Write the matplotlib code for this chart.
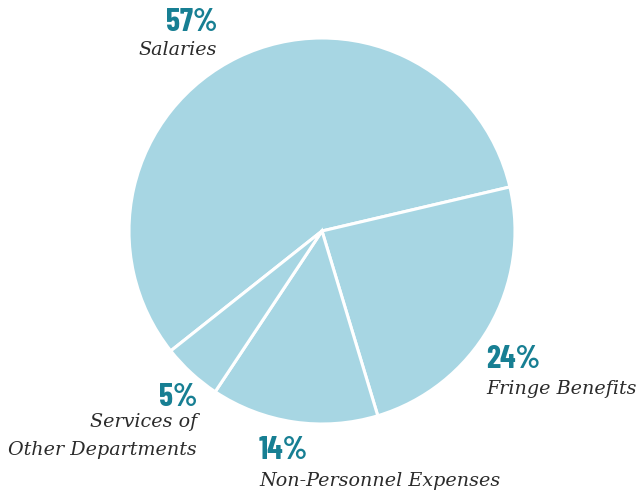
import matplotlib
matplotlib.use("Agg")
import matplotlib.pyplot as plt

# Budget shares by expense category
categories = ["Salaries", "Fringe Benefits", "Non-Personnel Expenses", "Services of\nOther Departments"]
shares = [57, 24, 14, 5]
pct_labels = ["57%", "24%", "14%", "5%"]

W, H = 636, 494
fig = plt.figure(figsize=(W / 100, H / 100), dpi=100)
ax = fig.add_axes([0, 0, 1, 1])

slice_color = "#a7d6e3"
pct_color = "#177f93"
text_color = "#2b2b2b"

# Salaries starts at the lower-left and runs clockwise to the upper-right
start = 13.2 + shares[0] / 100 * 360
ax.pie(shares, colors=[slice_color] * len(shares), startangle=start,
       counterclock=False, center=(322, H - 231), radius=193,
       wedgeprops=dict(edgecolor="white", linewidth=2.2), frame=True)
ax.set_xlim(0, W)
ax.set_ylim(0, H)
ax.set_aspect("equal")
ax.axis("off")

pct_font = dict(family=["Barlow Condensed", "DejaVu Sans"], fontweight=700,
                fontsize=23, color=pct_color)
name_font = dict(family="DejaVu Serif", style="italic", fontsize=13.8,
                 color=text_color, linespacing=1.72)

# (x, y of percent, y of name, alignment) in pixel coordinates from the top
placements = [
    (217, 23, 50, "right", "center"),
    (486, 359, 389, "left", "center"),
    (259, 450, 481, "left", "center"),
    (197, 397, 425, "right", "top"),
]
for (x, yp, yn, ha, va), pct, name in zip(placements, pct_labels, categories):
    ax.text(x, H - yp, pct, ha=ha, va="center", **pct_font)
    if va == "top":
        ax.text(x, H - yn + 12, name, ha=ha, va="top", **name_font)
    else:
        ax.text(x, H - yn, name, ha=ha, va="center", **name_font)

fig.savefig("out.png", dpi=100)
